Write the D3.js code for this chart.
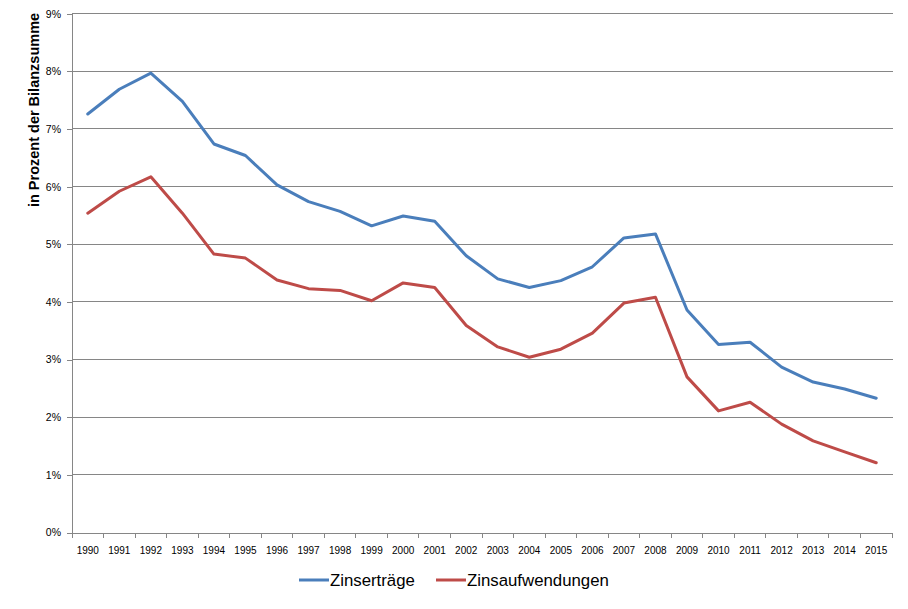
<!DOCTYPE html>
<html><head><meta charset="utf-8">
<script src="https://cdn.jsdelivr.net/npm/d3@7"></script>
<style>body{margin:0;background:#fff;} svg{display:block;}</style>
</head><body>
<svg id="chart" width="908" height="609"></svg>
<script>
const years = ["1990","1991","1992","1993","1994","1995","1996","1997","1998","1999","2000","2001","2002","2003","2004","2005","2006","2007","2008","2009","2010","2011","2012","2013","2014","2015"];
const zinsertraege = [7.26,7.69,7.97,7.48,6.74,6.54,6.03,5.74,5.57,5.32,5.49,5.40,4.80,4.40,4.25,4.37,4.61,5.11,5.18,3.86,3.26,3.30,2.87,2.61,2.49,2.33];
const zinsaufwendungen = [5.54,5.92,6.17,5.54,4.83,4.76,4.38,4.23,4.20,4.02,4.33,4.25,3.59,3.22,3.04,3.18,3.46,3.98,4.08,2.70,2.11,2.26,1.88,1.59,1.40,1.21];
const yTicks = [0,1,2,3,4,5,6,7,8,9];
const seriesNames = ["Zinserträge","Zinsaufwendungen"];
const colors = ["#4a7ebb","#be4b48"];

const svg = d3.select("#chart");
const L = 72, R = 892, T = 13.7, B = 532.5;
const x = d3.scaleBand().domain(years).range([L, R]);
const y = d3.scaleLinear().domain([0, 9]).range([B, T]);
const font = "'Liberation Sans', Arial, sans-serif";

// gridlines
svg.append("g").selectAll("line").data(yTicks.filter(d => d > 0)).join("line")
  .attr("x1", L).attr("x2", R + 1).attr("y1", d => y(d)).attr("y2", d => y(d))
  .attr("stroke", "#868686").attr("stroke-width", 1).attr("shape-rendering", "crispEdges");

// y axis
const yAxis = svg.append("g").attr("transform", `translate(${L},0)`)
  .call(d3.axisLeft(y).tickValues(yTicks).tickFormat(d => d + "%").tickSize(5).tickSizeOuter(0));
yAxis.select(".domain").attr("stroke", "#868686").attr("shape-rendering", "crispEdges");
yAxis.selectAll(".tick line").attr("stroke", "#868686").attr("shape-rendering", "crispEdges");
yAxis.selectAll("text").attr("font-family", font).attr("font-size", "10.5px").attr("fill", "#000").attr("x", -11);

// x axis
const xAxis = svg.append("g").attr("transform", `translate(0,${B})`)
  .call(d3.axisBottom(x).tickSize(0).tickSizeOuter(0));
xAxis.select(".domain").attr("stroke", "#868686").attr("shape-rendering", "crispEdges");
xAxis.selectAll("text").attr("font-family", font).attr("font-size", "10px").attr("fill", "#000").attr("dy", "0").attr("y", 21);
// category boundary ticks
const bounds = years.map(d => x(d)).concat([R]);
svg.append("g").selectAll("line").data(bounds).join("line")
  .attr("x1", d => d).attr("x2", d => d).attr("y1", B).attr("y2", B + 5)
  .attr("stroke", "#868686").attr("shape-rendering", "crispEdges");

// lines
const line = d3.line().x((d, i) => x(years[i]) + x.bandwidth() / 2).y(d => y(d));
[zinsertraege, zinsaufwendungen].forEach((s, k) => {
  svg.append("path").datum(s).attr("d", line).attr("fill", "none")
    .attr("stroke", colors[k]).attr("stroke-width", 3).attr("stroke-linejoin", "round").attr("stroke-linecap", "round");
});

// y title
svg.append("text").attr("transform", "translate(39,110) rotate(-90)")
  .attr("text-anchor", "middle").attr("font-family", font).attr("font-weight", "bold")
  .attr("font-size", "14.5px").attr("fill", "#000").text("in Prozent der Bilanzsumme");

// legend
const legX = [299, 436];
seriesNames.forEach((n, k) => {
  svg.append("line").attr("x1", legX[k]).attr("x2", legX[k] + 30).attr("y1", 580).attr("y2", 580)
    .attr("stroke", colors[k]).attr("stroke-width", 3);
  svg.append("text").attr("x", legX[k] + 31).attr("y", 586).attr("font-family", font)
    .attr("font-size", "16.8px").attr("fill", "#000").text(n);
});
</script>
</body></html>
